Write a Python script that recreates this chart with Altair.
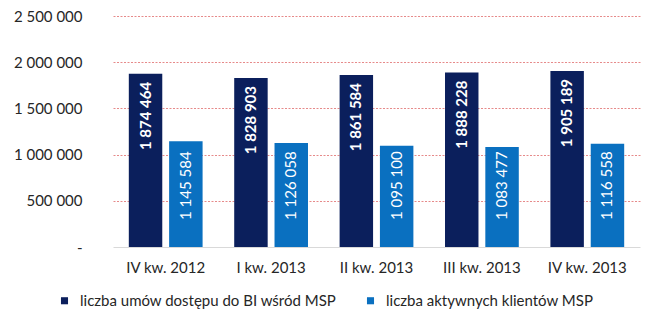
import altair as alt
import pandas as pd

categories = ["IV kw. 2012", "I kw. 2013", "II kw. 2013", "III kw. 2013", "IV kw. 2013"]
series_names = ["liczba umów dostępu do BI wśród MSP", "liczba aktywnych klientów MSP"]
umowy = [1874464, 1828903, 1861584, 1888228, 1905189]
aktywni = [1145584, 1126058, 1095100, 1083477, 1116558]
y_ticks = [0, 500000, 1000000, 1500000, 2000000, 2500000]
colors = ["#0b1f5c", "#0a70c0"]

FONT = "Lato"


def fmt(v):
    return f"{v:,}".replace(",", " ")


rows = []
for c, a, b in zip(categories, umowy, aktywni):
    rows.append({"cat": c, "series": series_names[0], "value": a, "label": fmt(a)})
    rows.append({"cat": c, "series": series_names[1], "value": b, "label": fmt(b)})
df = pd.DataFrame(rows)

x_enc = alt.X(
    "cat:N",
    sort=categories,
    title=None,
    scale=alt.Scale(paddingInner=0.3, paddingOuter=0.15),
    axis=alt.Axis(
        labelAngle=0,
        labelFont=FONT,
        labelFontSize=15,
        labelColor="#262626",
        labelPadding=13,
        ticks=False,
        domainColor="#d9d9d9",
        domainWidth=1,
        grid=False,
    ),
)
xoff_enc = alt.XOffset("series:N", sort=series_names, scale=alt.Scale(paddingInner=0.17))

y_scale = alt.Scale(domain=[0, 2500000], nice=False)

base = alt.Chart(df).encode(x=x_enc, xOffset=xoff_enc)

bars = base.mark_bar().encode(
    y=alt.Y(
        "value:Q",
        scale=y_scale,
        title=None,
        axis=alt.Axis(
            values=y_ticks,
            labelExpr="datum.value == 0 ? '-\u00a0\u00a0\u00a0' : replace(replace(format(datum.value, ','), ',', ' '), ',', ' ')",
            labelFont=FONT,
            labelFontSize=15,
            labelColor="#262626",
            labelPadding=31,
            ticks=False,
            domain=False,
            grid=True,
            gridColor=alt.condition("datum.value === 0", alt.value("transparent"), alt.value("#e06c6c")),
            gridDash=[2, 1.5],
            gridWidth=0.8,
        ),
    ),
    color=alt.Color(
        "series:N",
        sort=series_names,
        scale=alt.Scale(domain=series_names, range=colors),
        legend=alt.Legend(
            title=None,
            orient="none",
            direction="horizontal",
            legendX=-56,
            legendY=277,
            symbolType="square",
            symbolSize=50,
            symbolStrokeWidth=0,
            labelFont=FONT,
            labelFontSize=15,
            labelColor="#262626",
            labelOffset=8,
            labelLimit=0,
            columnPadding=26,
            padding=0,
        ),
    ),
)

dark_labels = base.transform_filter(
    alt.datum.series == series_names[0]
).mark_text(
    angle=270, align="right", baseline="middle", dx=-8,
    font=FONT, fontSize=15, fontWeight="bold", color="white",
).encode(y=alt.Y("value:Q", scale=y_scale), text="label:N")

light_labels = base.transform_filter(
    alt.datum.series == series_names[1]
).mark_text(
    angle=270, align="left", baseline="middle", dx=27,
    font=FONT, fontSize=15, color="white",
).encode(y=alt.datum(0, type="quantitative", scale=y_scale), text="label:N")

chart = alt.layer(bars, dark_labels, light_labels).properties(
    width=527,
    height=231,
    autosize=alt.AutoSizeParams(type="none"),
    padding={"left": 113, "top": 16, "right": 15, "bottom": 80},
    background="white",
).configure_view(stroke=None)

chart.save("out.html", embed_options={"renderer": "svg", "actions": False})
